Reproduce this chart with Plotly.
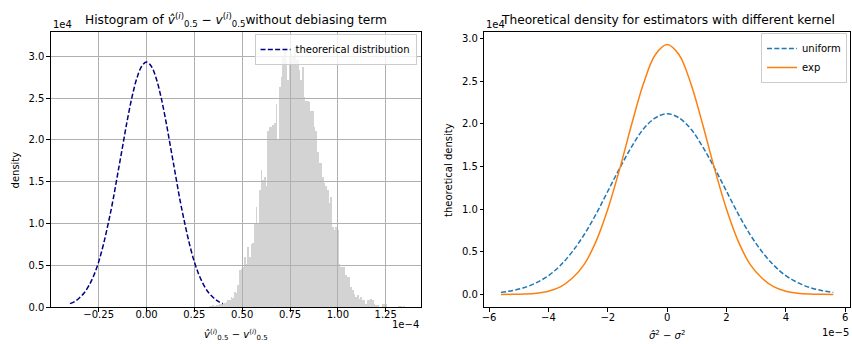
import plotly.graph_objects as go

# ---------------- data ----------------
# Left panel: x in units of 1e-4, density in units of 1e4
hist_bin_start = 0.317708      # left edge of first histogram bin (1e-4)
hist_bin_width = 0.0086806     # histogram bin width (1e-4)
hist_density = [
    0, 0.01, 0.01, 0.02, 0.01, 0.02, 0.02,
    0.03, 0.03, 0.04, 0.05, 0.06, 0.08, 0.08, 0.12, 0.11, 0.18, 0.17, 0.26,
    0.44, 0.46, 0.48, 0.60, 0.52, 0.72, 0.60, 0.75, 0.76, 1.00, 1.20, 1.00, 1.40, 1.64, 1.52, 1.55, 1.45,
    2.10, 2.15, 2.15, 2.18, 2.20, 2.43, 2.00, 2.63, 2.75, 2.99, 3.11, 2.95, 2.71, 2.99, 3.03,
    2.99, 3.11, 2.95, 2.95, 2.83, 2.71, 2.87, 2.51, 2.47, 2.47, 2.45, 2.35, 2.35, 2.15, 2.10, 1.85,
    1.72, 1.72, 1.55, 1.48, 1.45, 1.40, 1.24, 1.32, 0.96, 0.92, 0.96, 0.92, 0.52, 0.48, 0.48,
    0.48, 0.38, 0.36, 0.36, 0.24, 0.20, 0.16, 0.12, 0.14, 0.10, 0.12, 0.08, 0.08, 0.04, 0.08,
    0.08, 0.10, 0.08, 0.04, 0.02,
    0.02, 0, 0, 0.04, 0.04, 0.03, 0, 0, 0, 0, 0, 0, 0, 0.01, 0.01, 0, 0.01,
]
theory_x = [-0.400, -0.375, -0.350, -0.325, -0.300, -0.275, -0.250, -0.225, -0.200, -0.175, -0.150,
            -0.125, -0.100, -0.075, -0.050, -0.025, 0.000, 0.025, 0.050, 0.075, 0.100, 0.125,
            0.150, 0.175, 0.200, 0.225, 0.250, 0.275, 0.300, 0.325, 0.350, 0.375, 0.400]
theory_density = [0.04, 0.066, 0.11, 0.17, 0.26, 0.38, 0.54, 0.75, 1.00, 1.28, 1.60, 1.92, 2.24,
                  2.52, 2.74, 2.88, 2.93, 2.88, 2.74, 2.52, 2.24, 1.92, 1.60, 1.28, 1.00, 0.75,
                  0.54, 0.38, 0.26, 0.17, 0.11, 0.066, 0.04]

left_xticks = [-0.25, 0.0, 0.25, 0.5, 0.75, 1.0, 1.25]
left_xticklabels = ["\u22120.25", "0.00", "0.25", "0.50", "0.75", "1.00", "1.25"]
left_yticks = [0, 0.5, 1.0, 1.5, 2.0, 2.5, 3.0]
left_yticklabels = ["0.0", "0.5", "1.0", "1.5", "2.0", "2.5", "3.0"]

# Right panel: x in units of 1e-5, density in units of 1e4
kernel_x = [-5.6, -5.2, -4.8, -4.4, -4.0, -3.6, -3.2, -2.8, -2.4, -2.0, -1.6, -1.2, -0.8, -0.4, 0.0,
            0.4, 0.8, 1.2, 1.6, 2.0, 2.4, 2.8, 3.2, 3.6, 4.0, 4.4, 4.8, 5.2, 5.6]
uniform_density = [0.025, 0.047, 0.082, 0.14, 0.22, 0.34, 0.50, 0.70, 0.94, 1.21, 1.48, 1.73, 1.94,
                   2.07, 2.12, 2.07, 1.94, 1.73, 1.48, 1.21, 0.94, 0.70, 0.50, 0.34, 0.22, 0.14,
                   0.082, 0.047, 0.025]
exp_density = [0.001, 0.002, 0.006, 0.016, 0.039, 0.089, 0.19, 0.35, 0.62, 1.00, 1.47, 1.99, 2.47,
               2.81, 2.93, 2.81, 2.47, 1.99, 1.47, 1.00, 0.62, 0.35, 0.19, 0.089, 0.039, 0.016,
               0.006, 0.002, 0.001]

right_xticks = [-6, -4, -2, 0, 2, 4, 6]
right_xticklabels = ["\u22126", "\u22124", "\u22122", "0", "2", "4", "6"]
right_yticks = [0, 0.5, 1.0, 1.5, 2.0, 2.5, 3.0]
right_yticklabels = ["0.0", "0.5", "1.0", "1.5", "2.0", "2.5", "3.0"]

# ---------------- figure ----------------
W, H = 852, 344          # target picture size (layout positions are given in these pixels)
FIG_H = 350              # rendered page height
FONT = "DejaVu Sans"
TICK = 10
TITLE = 12.2

hist_centers = [hist_bin_start + (i + 0.5) * hist_bin_width for i in range(len(hist_density))]

fig = go.Figure()
fig.add_trace(go.Bar(
    x=hist_centers, y=hist_density, width=hist_bin_width,
    marker=dict(color="rgba(176,176,176,0.557)", line=dict(width=0)),
    showlegend=False, xaxis="x", yaxis="y",
))
fig.add_trace(go.Scatter(
    x=theory_x, y=theory_density, mode="lines", name="theorerical distribution",
    line=dict(color="#000080", width=1.5, dash="5px,2.3px", shape="spline"),
    xaxis="x", yaxis="y", legend="legend",
))
fig.add_trace(go.Scatter(
    x=kernel_x, y=uniform_density, mode="lines", name="uniform",
    line=dict(color="#1f77b4", width=1.5, dash="5px,2.3px", shape="spline"),
    xaxis="x2", yaxis="y2", legend="legend2",
))
fig.add_trace(go.Scatter(
    x=kernel_x, y=exp_density, mode="lines", name="exp",
    line=dict(color="#ff7f0e", width=1.5, shape="spline"),
    xaxis="x2", yaxis="y2", legend="legend2",
))

def px_x(p):
    return p / W

def px_y(p):
    return 1 - p / H

axis_common = dict(
    showline=True, linecolor="black", linewidth=1, mirror=True,
    ticks="outside", ticklen=3.5, tickwidth=1, tickcolor="black",
    tickfont=dict(family=FONT, size=TICK, color="black"),
    zeroline=False, tickmode="array",
)

ydom = [px_y(307), px_y(32)]
fig.update_layout(
    width=W, height=FIG_H, margin=dict(l=0, r=0, t=0, b=0),
    paper_bgcolor="white", plot_bgcolor="white",
    font=dict(family=FONT, size=TICK, color="black"),
    bargap=0,
    xaxis=dict(domain=[px_x(48), px_x(419)], range=[-0.5, 1.432],
               tickvals=left_xticks, ticktext=left_xticklabels, ticklabelstandoff=-6,
               showgrid=True, gridcolor="#b0b0b0", gridwidth=0.8, anchor="y", **axis_common),
    yaxis=dict(domain=ydom, range=[0, 3.29],
               tickvals=left_yticks, ticktext=left_yticklabels,
               showgrid=True, gridcolor="#b0b0b0", gridwidth=0.8, anchor="x", **axis_common),
    xaxis2=dict(domain=[px_x(483), px_x(850)], range=[-6.16, 6.16],
                tickvals=right_xticks, ticktext=right_xticklabels, ticklabelstandoff=-3,
                showgrid=False, anchor="y2", **axis_common),
    yaxis2=dict(domain=ydom, range=[-0.1465, 3.077],
                tickvals=right_yticks, ticktext=right_yticklabels,
                showgrid=False, anchor="x2", **axis_common),
    legend=dict(x=px_x(415), y=px_y(34), xanchor="right", yanchor="top",
                bgcolor="rgba(255,255,255,0.8)", bordercolor="#cccccc", borderwidth=1,
                font=dict(family=FONT, size=TICK), itemwidth=30, tracegroupgap=0),
    legend2=dict(x=px_x(847), y=px_y(33), xanchor="right", yanchor="top",
                 bgcolor="rgba(255,255,255,0.8)", bordercolor="#cccccc", borderwidth=1,
                 font=dict(family=FONT, size=TICK), itemwidth=30, tracegroupgap=0),
)

annos = [
    # titles
    dict(text="Histogram of <i>v\u0302</i><sup>(<i>i</i>)</sup><sub>0.5</sub> \u2212 <i>v</i><sup>(<i>i</i>)</sup><sub>0.5</sub>without debiasing term",
         x=px_x(233.5), y=px_y(20), size=TITLE),
    dict(text="Theoretical density for estimators with different kernel",
         x=px_x(667), y=px_y(20), size=TITLE),
    # axis labels
    dict(text="<i>v\u0302</i><sup>(<i>i</i>)</sup><sub>0.5</sub> \u2212 <i>v</i><sup>(<i>i</i>)</sup><sub>0.5</sub>",
         x=px_x(233.5), y=px_y(335), size=TICK),
    dict(text="<i>\u03c3\u0302</i><sup>2</sup> \u2212 <i>\u03c3</i><sup>2</sup>",
         x=px_x(666), y=px_y(335), size=TICK),
    dict(text="density", x=px_x(13), y=px_y(169.5), size=TICK, textangle=-90),
    dict(text="theoretical density", x=px_x(447), y=px_y(169.5), size=TICK, textangle=-90),
]
for a in annos:
    fig.add_annotation(text=a["text"], x=a["x"], y=a["y"], xref="paper", yref="paper",
                       showarrow=False, xanchor="center", yanchor="middle",
                       textangle=a.get("textangle", 0),
                       font=dict(family=FONT, size=a["size"], color="black"))

# offset (scale) labels
for txt, x, y, anchor in [("1e4", 48, 24, "left"), ("1e\u22124", 419, 324, "right"),
                          ("1e4", 483, 24, "left"), ("1e\u22125", 851, 332, "right")]:
    fig.add_annotation(text=txt, x=px_x(x), y=px_y(y), xref="paper", yref="paper",
                       showarrow=False, xanchor=anchor, yanchor="middle",
                       font=dict(family=FONT, size=TICK, color="black"))

post = (
    "document.documentElement.style.margin='0';"
    "document.documentElement.style.overflow='hidden';"
    "document.body.style.margin='0';"
    "document.body.style.overflow='hidden';"
    "var gd=document.getElementById('{plot_id}');"
    "var wrap=gd.parentElement; wrap.style.position='fixed'; wrap.style.left='0'; wrap.style.top='0';"
)
fig.write_html("out.html", config={"displayModeBar": False}, post_script=post)
